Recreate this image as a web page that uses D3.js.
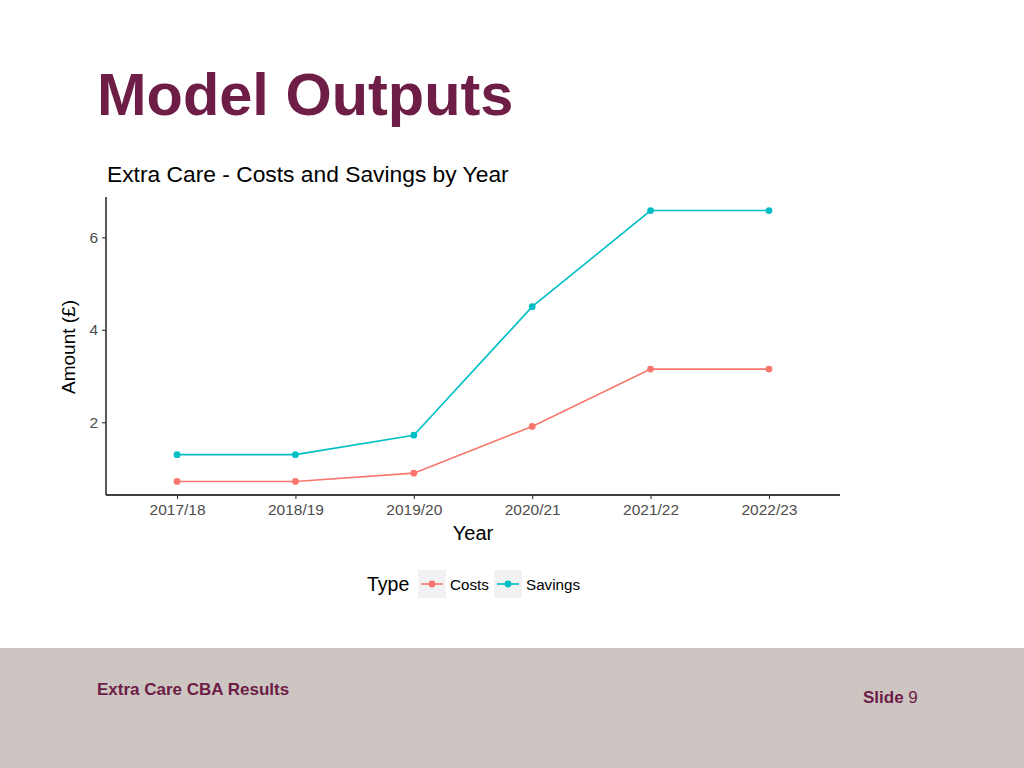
<!DOCTYPE html>
<html><head><meta charset="utf-8">
<script src="https://cdn.jsdelivr.net/npm/d3@7"></script>
<style>body{margin:0;background:#fff;}svg{display:block;font-family:"Liberation Sans",Arial,sans-serif;}</style>
</head><body>
<svg id="c" width="1024" height="768"></svg>
<script>
const years = ["2017/18","2018/19","2019/20","2020/21","2021/22","2022/23"];
const costs = [0.72, 0.72, 0.90, 1.91, 3.15, 3.15];
const savings = [1.30, 1.30, 1.72, 4.50, 6.58, 6.58];
const yTicks = [2, 4, 6];
const seriesNames = ["Costs", "Savings"];
const seriesColors = ["#F8766D", "#00BFC4"];

(function () {
const svg = d3.select("#c");
// slide title
svg.append("text").attr("x", 97).attr("y", 115).attr("font-size", 59.5).attr("font-weight", "bold")
  .attr("fill", "#6d1d46").text("Model Outputs");
// footer
svg.append("rect").attr("x", 0).attr("y", 648).attr("width", 1024).attr("height", 120).attr("fill", "#cdc5c1");
svg.append("text").attr("x", 97).attr("y", 695).attr("font-size", 17).attr("font-weight", "bold")
  .attr("fill", "#6d1d46").text("Extra Care CBA Results");
const sl = svg.append("text").attr("x", 863).attr("y", 703).attr("font-size", 17).attr("fill", "#6d1d46");
sl.append("tspan").attr("font-weight", "bold").text("Slide ");
sl.append("tspan").text("9");

// chart
const pL = 106, pR = 840, pT = 197, pB = 495;
const all = costs.concat(savings);
const mn = d3.min(all), mx = d3.max(all), ex = (mx - mn) * 0.05;
const x = d3.scalePoint().domain(years).range([pL, pR]).padding(0.6);
const y = d3.scaleLinear().domain([mn - ex, mx + ex]).range([pB, pT]);

svg.append("text").attr("x", 107).attr("y", 182).attr("font-size", 22.8).attr("fill", "#000")
  .text("Extra Care - Costs and Savings by Year");

const gx = svg.append("g").attr("transform", `translate(0,${pB})`)
  .call(d3.axisBottom(x).tickSize(4).tickPadding(5).tickSizeOuter(0));
const gy = svg.append("g").attr("transform", `translate(${pL},0)`)
  .call(d3.axisLeft(y).tickValues(yTicks).tickFormat(d3.format("d")).tickSize(4).tickPadding(4).tickSizeOuter(0));
[gx, gy].forEach(g => {
  g.select(".domain").attr("stroke", "#000").attr("stroke-width", 1.3);
  g.selectAll(".tick line").attr("stroke", "#333").attr("stroke-width", 1.1);
  g.selectAll(".tick text").attr("fill", "#4d4d4d").attr("font-size", 15.5).attr("font-family", "Liberation Sans, Arial, sans-serif");
});
gx.select(".domain").attr("d", `M${pL},0H${pR}`);
gy.select(".domain").attr("d", `M0,${pB}V${pT}`);

svg.append("text").attr("x", 473).attr("y", 540).attr("text-anchor", "middle").attr("font-size", 20).text("Year");
svg.append("text").attr("transform", "translate(75,347) rotate(-90)").attr("text-anchor", "middle")
  .attr("font-size", 19).text("Amount (£)");

const data = [costs, savings];
const line = d3.line().x((d, i) => x(years[i])).y(d => y(d));
data.forEach((vals, k) => {
  svg.append("path").datum(vals).attr("d", line).attr("fill", "none")
    .attr("stroke", seriesColors[k]).attr("stroke-width", 1.6);
  svg.selectAll(null).data(vals).enter().append("circle")
    .attr("cx", (d, i) => x(years[i])).attr("cy", d => y(d)).attr("r", 3.4).attr("fill", seriesColors[k]);
});

// legend
svg.append("text").attr("x", 367).attr("y", 591).attr("font-size", 19.5).text("Type");
const lx = [418, 494];
seriesNames.forEach((n, k) => {
  const g = svg.append("g").attr("transform", `translate(${lx[k]},570)`);
  g.append("rect").attr("width", 28).attr("height", 28).attr("fill", "#f2f2f2");
  g.append("line").attr("x1", 3).attr("x2", 25).attr("y1", 14).attr("y2", 14)
    .attr("stroke", seriesColors[k]).attr("stroke-width", 1.6);
  g.append("circle").attr("cx", 14).attr("cy", 14).attr("r", 3.4).attr("fill", seriesColors[k]);
  g.append("text").attr("x", 32).attr("y", 20).attr("font-size", 15.2).text(n);
});
})();
</script>
</body></html>
